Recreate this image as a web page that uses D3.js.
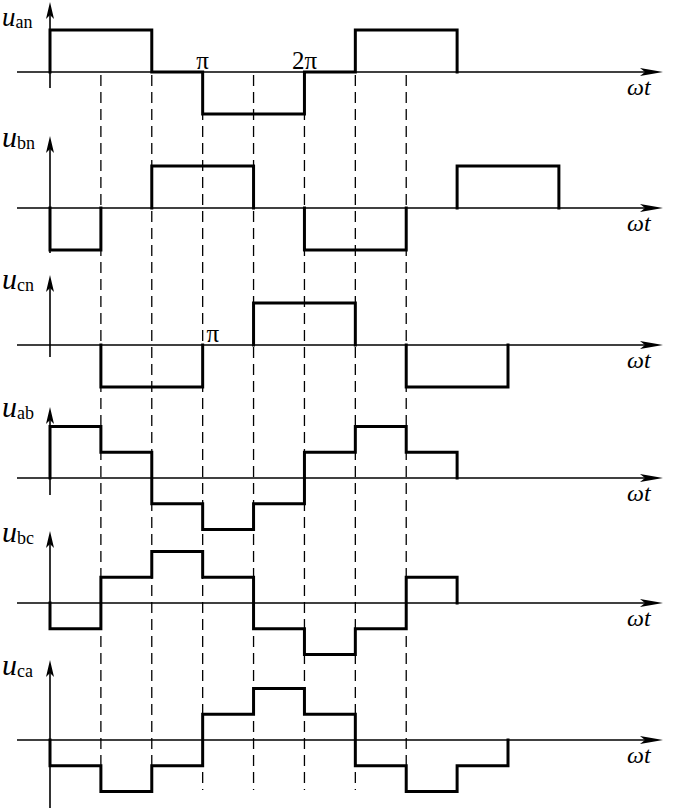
<!DOCTYPE html>
<html><head><meta charset="utf-8">
<script src="https://cdn.jsdelivr.net/npm/d3@7"></script>
<style>body{margin:0;background:#fff}svg{display:block}</style>
</head><body>
<script>
// ---- data (values per π/3 interval, starting at ωt = 0) ----
const panelSubs = ["an","bn","cn","ab","bc","ca"];
const uan = [1, 1, 0, -1, -1, 0, 1, 1];
const ubn = [-1, 0, 1, 1, 0, -1, -1, 0, 1, 1];
const ucn = [0, -1, -1, 0, 1, 1, 0, -1, -1];
const uab = [2, 1, -1, -2, -1, 1, 2, 1];
const ubc = [-1, 1, 2, 1, -1, -2, -1, 1];
const uca = [-1, -2, -1, 1, 2, 1, -1, -2, -1];
const seriesList = [uan, ubn, ucn, uab, ubc, uca];
const drawZeroRuns = [true, false, false, false, false, false];
const dashedTicks = [1, 2, 3, 4, 5, 6, 7];
const tickLabels = [
  {panel: 0, k: 3, text: "π"},
  {panel: 0, k: 5, text: "2π"},
  {panel: 2, k: 3.2, text: "π"}
];

// ---- layout ----
const W = 677, H = 810;
const x = d3.scaleLinear().domain([0, 9]).range([50, 508]);
const baseY = [72, 208, 345, 478, 603, 740];
const unitPx = [42, 42, 42, 25.7, 25.7, 25.7];
const yAxisExt = [[-70, 16], [-72, 45], [-70, 12], [-71, 17], [-72, 26], [-80, 68]];
const labelBase = [26, 147, 289, 417, 542, 675];
const axisX0 = 17, axisX1 = 663;
const serif = "'Liberation Serif','Times New Roman',serif";

const svg = d3.select("body").append("svg").attr("width", W).attr("height", H);

// dashed guide lines
svg.append("g").selectAll("line").data(dashedTicks).join("line")
  .attr("x1", d => x(d)).attr("x2", d => x(d))
  .attr("y1", 75).attr("y2", 790)
  .attr("stroke", "#000").attr("stroke-width", 1.3)
  .attr("stroke-dasharray", "11,6");

seriesList.forEach((vals, p) => {
  const b = baseY[p];
  const y = d3.scaleLinear().domain([-1, 1]).range([b + unitPx[p], b - unitPx[p]]);
  const g = svg.append("g");

  // horizontal axis
  g.append("line").attr("x1", axisX0).attr("x2", axisX1 - 6)
    .attr("y1", b).attr("y2", b).attr("stroke", "#000").attr("stroke-width", 1.6);
  g.append("path")
    .attr("d", `M${axisX1},${b} L${axisX1 - 23},${b - 4} L${axisX1 - 18},${b} L${axisX1 - 23},${b + 4} Z`)
    .attr("fill", "#000");

  // vertical axis
  const x0 = x(0);
  const top = b + yAxisExt[p][0], bot = b + yAxisExt[p][1];
  g.append("line").attr("x1", x0).attr("x2", x0).attr("y1", top + 8).attr("y2", bot)
    .attr("stroke", "#000").attr("stroke-width", 1.6);
  g.append("path")
    .attr("d", `M${x0},${top} L${x0 - 4},${top + 17} L${x0},${top + 13} L${x0 + 4},${top + 17} Z`)
    .attr("fill", "#000");

  // waveform
  const path = d3.path();
  let prev = 0;
  path.moveTo(x(0), y(0));
  vals.forEach((v, i) => {
    if (v !== prev) { path.moveTo(x(i), y(prev)); path.lineTo(x(i), y(v)); }
    if (v !== 0 || drawZeroRuns[p]) { path.moveTo(x(i), y(v)); path.lineTo(x(i + 1), y(v)); }
    prev = v;
  });
  if (prev !== 0) { path.moveTo(x(vals.length), y(prev)); path.lineTo(x(vals.length), y(0)); }
  g.append("path").attr("d", path.toString()).attr("fill", "none")
    .attr("stroke", "#000").attr("stroke-width", 3).attr("stroke-linecap", "square");

  // label u_xx
  const t = g.append("text").attr("x", 2).attr("y", labelBase[p])
    .attr("font-family", serif).attr("fill", "#000");
  t.append("tspan").attr("font-style", "italic").attr("font-size", p === 0 ? 27 : 30).text("u");
  t.append("tspan").attr("font-size", 18).attr("dy", 2).text(panelSubs[p]);

  // ωt label
  g.append("text").attr("x", 627).attr("y", b + 23)
    .attr("font-family", serif).attr("font-style", "italic").attr("font-size", 24)
    .attr("fill", "#000").text("ωt");
});

// π labels
svg.append("g").selectAll("text").data(tickLabels).join("text")
  .attr("x", d => x(d.k)).attr("y", d => baseY[d.panel] - 3)
  .attr("text-anchor", "middle").attr("font-family", serif).attr("font-size", 25)
  .attr("fill", "#000").text(d => d.text);
</script>
</body></html>
